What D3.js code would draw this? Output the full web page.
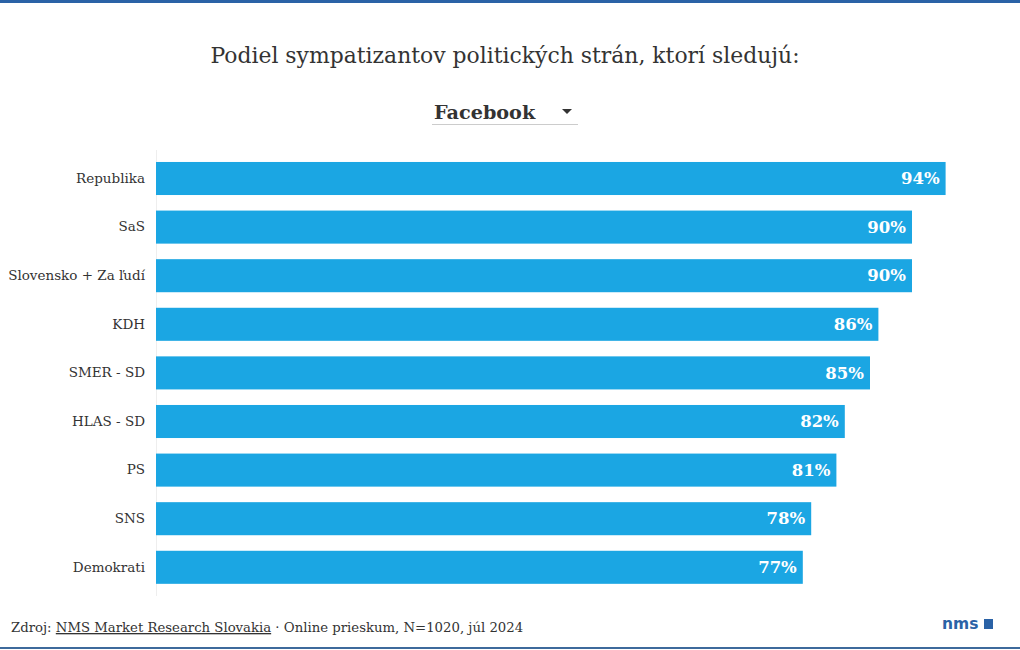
<!DOCTYPE html>
<html><head><meta charset="utf-8">
<script src="https://cdn.jsdelivr.net/npm/d3@7"></script>
<style>
body{margin:0;background:#fff;}
svg{display:block;}
text{font-family:"DejaVu Serif",serif;}
text.logo{font-family:"DejaVu Sans",sans-serif;}
</style></head><body>
<svg id="c" width="1020" height="650"></svg>
<script>
const categories = ["Republika","SaS","Slovensko + Za ľudí","KDH","SMER - SD","HLAS - SD","PS","SNS","Demokrati"];
const values = [94,90,90,86,85,82,81,78,77];
const title = "Podiel sympatizantov politických strán, ktorí sledujú:";
const selected = "Facebook";

const svg = d3.select("#c");
svg.append("rect").attr("x",0).attr("y",0).attr("width",1020).attr("height",3).attr("fill","#2a62a6");
svg.append("rect").attr("x",0).attr("y",647).attr("width",1020).attr("height",2).attr("fill","#3d6a9c");

svg.append("text").attr("x",505).attr("y",63).attr("text-anchor","middle")
  .attr("font-size",21.9).attr("fill","#333").text(title);

// dropdown
svg.append("text").attr("x",434).attr("y",119).attr("font-size",19.2).attr("font-weight","bold").attr("fill","#333").text(selected);
svg.append("path").attr("d","M562,109 L572,109 L567,114 Z").attr("fill","#333");
svg.append("line").attr("x1",432).attr("x2",578).attr("y1",124.5).attr("y2",124.5).attr("stroke","#ccc").attr("stroke-width",1);

const x = d3.scaleLinear().domain([0,100]).range([156,996]);
const y = d3.scaleBand().domain(categories).range([154.2,591.6]).paddingInner(0.32).paddingOuter(0.16);

svg.append("line").attr("x1",156.5).attr("x2",156.5).attr("y1",150).attr("y2",596).attr("stroke","#eee");

const g = svg.append("g");
g.selectAll("rect.bar").data(values).join("rect").attr("class","bar")
  .attr("x",x(0)).attr("y",(d,i)=>y(categories[i])).attr("width",d=>x(d)-x(0)).attr("height",y.bandwidth())
  .attr("fill","#1ba6e3");
g.selectAll("text.val").data(values).join("text").attr("class","val")
  .attr("x",d=>x(d)-6).attr("y",(d,i)=>y(categories[i])+y.bandwidth()/2).attr("dy","0.35em")
  .attr("text-anchor","end").attr("font-size",16.5).attr("font-weight","bold").attr("fill","#fff").text(d=>d+"%");

const yAxis = d3.axisLeft(y).tickSize(0).tickPadding(11);
const ga = svg.append("g").attr("transform","translate(156,0)").call(yAxis);
ga.select(".domain").remove();
ga.selectAll("text").attr("font-size",13.5).attr("fill","#333").attr("font-family","DejaVu Serif, serif");

// footer
const ft = svg.append("text").attr("x",11).attr("y",632).attr("font-size",13.25).attr("fill","#333");
ft.append("tspan").text("Zdroj: ");
ft.append("tspan").attr("text-decoration","underline").text("NMS Market Research Slovakia");
ft.append("tspan").text(" · Online prieskum, N=1020, júl 2024");

svg.append("text").attr("class","logo").attr("x",942).attr("y",629).attr("font-weight","bold").attr("font-size",15.5).attr("fill","#2a62a6").text("nms");
svg.append("rect").attr("x",984).attr("y",619).attr("width",9).attr("height",10).attr("fill","#2a62a6");
</script></body></html>
